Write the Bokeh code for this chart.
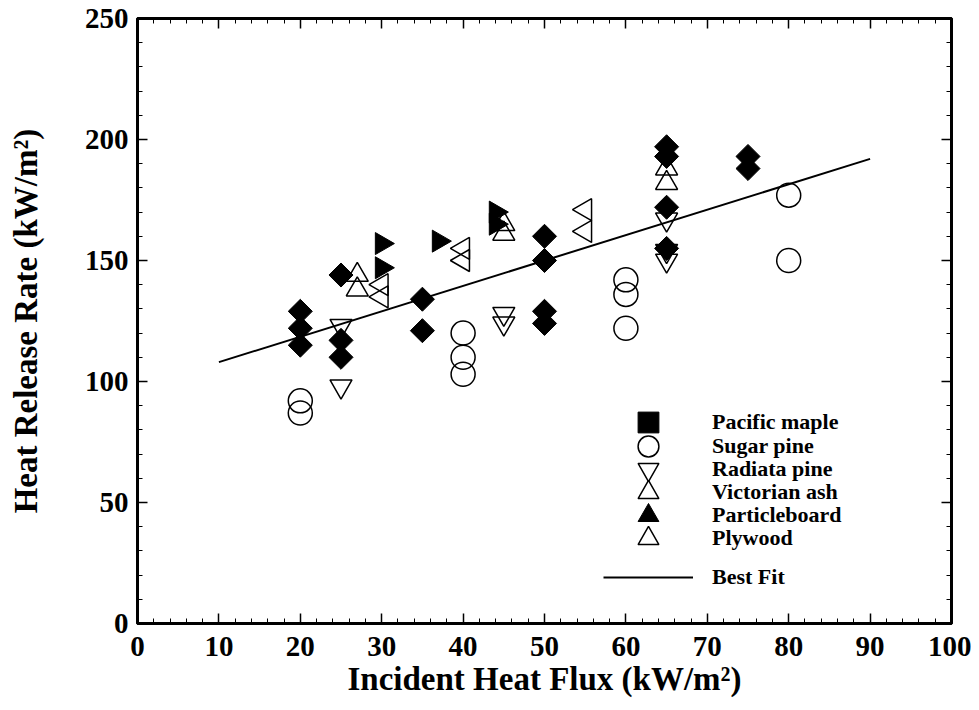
import math
from bokeh.plotting import figure
from bokeh.models import LinearAxis, Legend, LegendItem, Range1d, FixedTicker
from bokeh.embed import file_html
from bokeh.resources import INLINE

# ---- data ----
maple_x = [20, 20, 20, 25, 25, 25, 35, 35, 50, 50, 50, 50, 65, 65, 65, 65, 75, 75]
maple_y = [129, 122, 115, 144, 117, 110, 134, 121, 160, 150, 129, 124, 197, 193, 172, 155, 193, 188]

sugar_x = [20, 20, 40, 40, 40, 60, 60, 60, 80, 80]
sugar_y = [92, 87, 120, 110, 103, 142, 136, 122, 177, 150]

radiata_x = [25, 25, 45, 45, 65, 65, 65]
radiata_y = [123, 98, 128, 124, 167, 154, 150]

ash_x = [27, 27, 45, 45, 65, 65]
ash_y = [144, 138, 165, 161, 188, 182]

particle_x = [30, 30, 37, 44, 44]
particle_y = [157, 147, 158, 170, 165]

plywood_x = [30, 30, 40, 40, 55, 55]
plywood_y = [140, 135, 155, 150, 171, 162]

fit_x = [10, 90]
fit_y = [108, 192]

x_ticks = list(range(0, 101, 10))
x_minor = list(range(0, 101, 2))
y_ticks = list(range(0, 251, 50))
y_minor = list(range(0, 251, 10))

FONT = "Liberation Serif"

FRAME_W, FRAME_H = 814, 605
p = figure(frame_width=FRAME_W, frame_height=FRAME_H, output_backend="svg", toolbar_location=None,
           x_range=Range1d(0, 100), y_range=Range1d(0, 250),
           min_border_left=137, min_border_right=20, min_border_top=18, min_border_bottom=80)

p.grid.visible = False
p.outline_line_color = "black"
p.outline_line_width = 3
p.background_fill_color = "white"
p.border_fill_color = "white"

p.xaxis.ticker = FixedTicker(ticks=x_ticks, minor_ticks=x_minor)
p.yaxis.ticker = FixedTicker(ticks=y_ticks, minor_ticks=y_minor)


def style_axis(ax, labels=True):
    ax.axis_line_color = "black"
    ax.axis_line_width = 3
    ax.major_tick_in = 10
    ax.major_tick_out = 0
    ax.minor_tick_in = 5
    ax.minor_tick_out = 0
    ax.major_tick_line_width = 1.5
    ax.minor_tick_line_width = 1
    ax.major_tick_line_color = "black"
    ax.minor_tick_line_color = "black"
    ax.major_label_text_font = FONT
    ax.major_label_text_font_style = "bold"
    ax.major_label_text_color = "black"
    if not labels:
        ax.major_label_text_color = None
        ax.major_label_text_font_size = "1px"
        ax.major_label_standoff = 0


style_axis(p.xaxis[0])
style_axis(p.yaxis[0])
p.xaxis.major_label_text_font_size = "29px"
p.yaxis.major_label_text_font_size = "29px"
p.xaxis.major_label_standoff = 13
p.yaxis.major_label_standoff = 9

p.xaxis.axis_label = "Incident Heat Flux (kW/m\u00b2)"
p.yaxis.axis_label = "Heat Release Rate (kW/m\u00b2)"
for ax in (p.xaxis[0], p.yaxis[0]):
    ax.axis_label_text_font = FONT
    ax.axis_label_text_font_style = "bold"
    ax.axis_label_text_font_size = "33px"
    ax.axis_label_text_color = "black"
p.xaxis.axis_label_standoff = 2
p.yaxis.axis_label_standoff = 38

top_ax = LinearAxis(ticker=FixedTicker(ticks=x_ticks, minor_ticks=x_minor))
right_ax = LinearAxis(ticker=FixedTicker(ticks=y_ticks, minor_ticks=y_minor))
style_axis(top_ax, labels=False)
style_axis(right_ax, labels=False)
p.add_layout(top_ax, "above")
p.add_layout(right_ax, "right")

# best fit line
r_fit = p.line(fit_x, fit_y, line_color="black", line_width=2)

# markers
r_maple = p.scatter(maple_x, maple_y, marker="square", size=17, angle=math.pi / 4,
                    fill_color="black", line_color="black")
r_sugar = p.scatter(sugar_x, sugar_y, marker="circle", size=24,
                    fill_color=None, line_color="black", line_width=1.5)
r_rad = p.scatter(radiata_x, radiata_y, marker="inverted_triangle", size=22,
                  fill_color=None, line_color="black", line_width=1.5)
r_ash = p.scatter(ash_x, ash_y, marker="triangle", size=22,
                  fill_color=None, line_color="black", line_width=1.5)
r_part = p.scatter(particle_x, particle_y, marker="triangle", size=22, angle=-math.pi / 2,
                   fill_color="black", line_color="black")
r_ply = p.scatter(plywood_x, plywood_y, marker="triangle", size=22, angle=math.pi / 2,
                  fill_color=None, line_color="black", line_width=1.5)

# legend: one entry per Legend so that the marker samples can be drawn large
entries = [
    ("Pacific maple", r_maple),
    ("Sugar pine", r_sugar),
    ("Radiata pine", r_rad),
    ("Victorian ash", r_ash),
    ("Particleboard", r_part),
    ("Plywood", r_ply),
    ("Best Fit", r_fit),
]
row_centres_from_top = [404, 428, 451, 474, 497, 520, 559]  # px below frame top
GLYPH_H = 52
for (label, rend), cy in zip(entries, row_centres_from_top):
    lg = Legend(items=[LegendItem(label=label, renderers=[rend])],
                location=(466, FRAME_H - cy - GLYPH_H / 2))
    lg.border_line_color = None
    lg.background_fill_alpha = 0
    lg.padding = 0
    lg.margin = 0
    lg.spacing = 0
    lg.glyph_width = 90
    lg.glyph_height = GLYPH_H
    lg.label_height = GLYPH_H
    lg.label_standoff = 19
    lg.label_text_font = FONT
    lg.label_text_font_style = "bold"
    lg.label_text_font_size = "22px"
    lg.label_text_line_height = 1.0
    lg.label_text_color = "black"
    lg.label_text_baseline = "middle"
    p.add_layout(lg, "center")

open("out.html", "w").write(file_html(p, INLINE))
